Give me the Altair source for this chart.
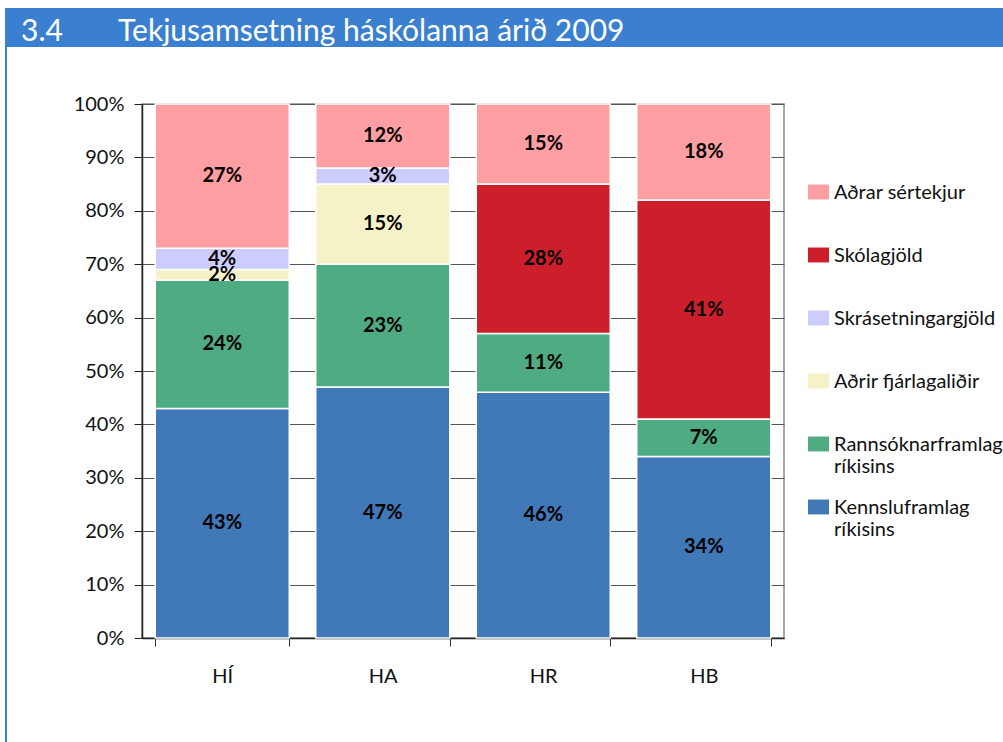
import altair as alt
import pandas as pd

schools = ["HÍ", "HA", "HR", "HB"]
stack_order = ["Kennsluframlag ríkisins", "Rannsóknarframlag ríkisins", "Aðrir fjárlagaliðir",
               "Skrásetningargjöld", "Skólagjöld", "Aðrar sértekjur"]
kennslu = [43, 47, 46, 34]
rannsokn = [24, 23, 11, 7]
adrir_fjar = [2, 15, 0, 0]
skras = [4, 3, 0, 0]
skola = [0, 0, 28, 41]
adrar = [27, 12, 15, 18]
series = [kennslu, rannsokn, adrir_fjar, skras, skola, adrar]
colors_by_cat = {
    "Aðrar sértekjur": "#ff9fa4",
    "Skólagjöld": "#cc1f2b",
    "Skrásetningargjöld": "#ccccff",
    "Aðrir fjárlagaliðir": "#f5f2c8",
    "Rannsóknarframlag ríkisins": "#4fab82",
    "Kennsluframlag ríkisins": "#4178b8",
}
legend_order = list(reversed(stack_order))
title_num = "3.4"
title_text = "Tekjusamsetning háskólanna árið 2009"

rows = []
for i, cat in enumerate(stack_order):
    for s, v in zip(schools, series[i]):
        if v > 0:
            rows.append({"school": s, "cat": cat, "value": v, "order": i})
df = pd.DataFrame(rows)

FONT = "Lato"
FS = 20
W, H = 642, 534
PL, PT = 142, 104

x_enc = alt.X("school:N", sort=schools,
              scale=alt.Scale(paddingInner=0.165, paddingOuter=0.0825),
              axis=alt.Axis(title=None, labelAngle=0, tickBand="extent", tickSize=8,
                            tickColor="#333333", domainColor="#222222", domainWidth=1.5,
                            labelFontSize=FS, labelPadding=20, labelColor="#111111",
                            labelFont=FONT, grid=False))

bars = alt.Chart(df).mark_bar(stroke="white", strokeWidth=1.5).encode(
    x=x_enc,
    y=alt.Y("value:Q", stack="zero", scale=alt.Scale(domain=[0, 100], nice=False),
            axis=alt.Axis(title=None, values=list(range(0, 101, 10)),
                          labelExpr="datum.value + '%'", grid=True, gridColor="#555555",
                          gridWidth=1, domainColor="#222222", domainWidth=1.5,
                          tickColor="#222222", tickSize=8, labelFontSize=FS,
                          labelPadding=10, labelColor="#111111", labelFont=FONT)),
    color=alt.Color("cat:N",
                    scale=alt.Scale(domain=legend_order,
                                    range=[colors_by_cat[c] for c in legend_order]),
                    legend=alt.Legend(title=None, orient="none", legendX=666, legendY=84,
                                      symbolType="M-1,-1.33L1,-1.33L1,0.09L-1,0.09Z",
                                      symbolSize=441, symbolStrokeWidth=0, symbolOpacity=1,
                                      labelFontSize=FS, labelFont=FONT, labelColor="#111111",
                                      labelBaseline="alphabetic", gridAlign="all",
                                      labelOffset=5, rowPadding=20, labelLimit=220,
                                      labelExpr="indexof(datum.label, 'ríkisins') > 0 ? split(datum.label, ' ') : datum.label")),
    order=alt.Order("order:Q"),
)

labels = alt.Chart(df).transform_stack(
    stack="value", as_=["y0", "y1"], groupby=["school"], sort=[alt.SortField("order")]
).transform_calculate(
    mid="(datum.y0 + datum.y1) / 2", lab="datum.value + '%'"
).mark_text(font=FONT, fontSize=FS, fontWeight="bold", color="black").encode(
    x=alt.X("school:N", sort=schools),
    y=alt.Y("mid:Q"),
    text="lab:N",
)

hdr = pd.DataFrame({"num": [title_num], "title": [title_text]})
header = alt.Chart(hdr).mark_rect(color="#3a7fd0").encode(
    x=alt.value(5 - PL), x2=alt.value(1003 - PL), y=alt.value(8 - PT), y2=alt.value(47 - PT)
)
border = alt.Chart(hdr).mark_rule(color="#3a7fd0", strokeWidth=2).encode(
    x=alt.value(6 - PL), y=alt.value(47 - PT), y2=alt.value(742 - PT)
)
num_text = alt.Chart(hdr).mark_text(font=FONT, fontSize=30, color="white", align="left",
                                    baseline="alphabetic").encode(
    x=alt.value(21 - PL), y=alt.value(41 - PT), text="num:N")
title_t = alt.Chart(hdr).mark_text(font=FONT, fontSize=30, color="white", align="left",
                                   baseline="alphabetic").encode(
    x=alt.value(118 - PL), y=alt.value(41 - PT), text="title:N")

chart = alt.layer(bars, labels, header, border, num_text, title_t).properties(
    width=W, height=H,
    autosize=alt.AutoSizeParams(type="none"),
    padding={"left": PL, "top": PT, "right": 1003 - PL - W, "bottom": 742 - PT - H},
    background="white",
).configure_view(stroke="#8c8c8c", strokeWidth=1.5)

chart.save("out.html", embed_options={"renderer": "svg", "actions": False})
